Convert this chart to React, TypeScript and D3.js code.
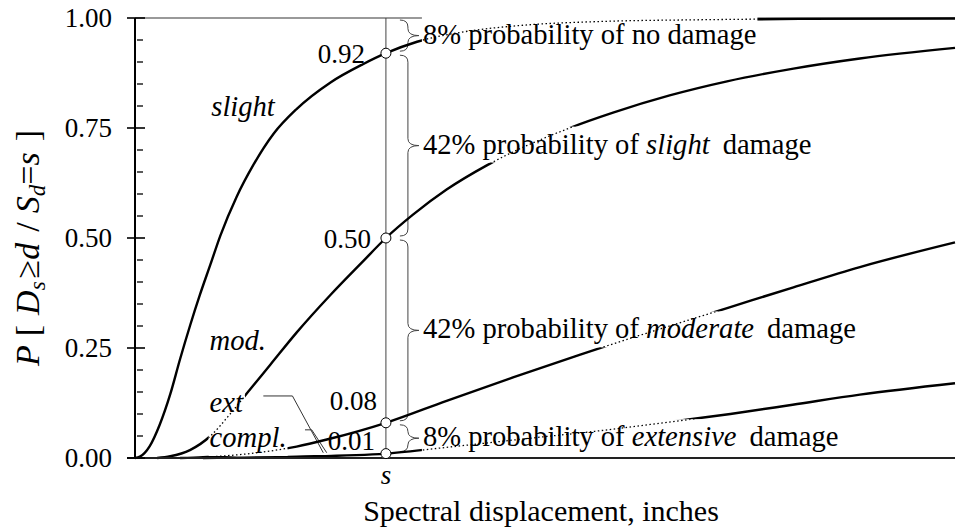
import React, { useEffect, useRef } from "react";
import * as d3 from "d3";

const W = 959;
const H = 531;

// spectral displacement (inches) vs P[Ds >= d | Sd = s]
const slightSd = [0, 0.06, 0.18, 0.3, 0.43, 0.55, 0.67, 0.79, 0.92, 1.04, 1.24, 1.44, 1.69, 1.97, 2.38, 2.78, 3.06, 3.44, 3.96, 4.7, 5.67, 6.89, 8.1, 10];
const slightP = [0, 0.003, 0.027, 0.075, 0.145, 0.225, 0.3, 0.37, 0.44, 0.505, 0.594, 0.665, 0.737, 0.793, 0.853, 0.895, 0.92, 0.946, 0.967, 0.983, 0.992, 0.996, 0.998, 0.999];

const modSd = [0.27, 0.43, 0.67, 0.92, 1.16, 1.4, 1.65, 1.97, 2.38, 2.78, 3.06, 3.39, 3.8, 4.29, 5.3, 5.83, 6.52, 7.22, 8.03, 8.84, 10];
const modP = [0, 0.004, 0.018, 0.05, 0.1, 0.155, 0.212, 0.285, 0.37, 0.447, 0.5, 0.553, 0.61, 0.665, 0.75, 0.785, 0.824, 0.856, 0.885, 0.908, 0.932];

const extSd = [0.55, 0.83, 1.4, 1.97, 2.34, 3.06, 3.8, 4.61, 5.43, 5.79, 7.26, 8.03, 8.84, 10];
const extP = [0, 0.002, 0.01, 0.026, 0.042, 0.08, 0.13, 0.183, 0.235, 0.257, 0.343, 0.388, 0.434, 0.49];

const complSd = [0.83, 1.97, 3.06, 3.84, 4.82, 5.67, 6.4, 7.26, 8.02, 8.84, 10];
const complP = [0, 0.003, 0.01, 0.025, 0.045, 0.062, 0.079, 0.1, 0.121, 0.144, 0.17];

const curves = [
  { sd: slightSd, p: slightP },
  { sd: modSd, p: modP },
  { sd: extSd, p: extP },
  { sd: complSd, p: complP },
];

const curveNames = ["slight", "mod.", "ext", "compl."];
const curveNameSd = [0.93, 0.91, 0.91, 0.91];
const curveNameP = [0.777, 0.245, 0.105, 0.025];

const sValue = 3.06;
const markerP = [0.92, 0.5, 0.08, 0.01];
const markerText = ["0.92", "0.50", "0.08", "0.01"];

const yMajor = [0, 0.25, 0.5, 0.75, 1];

const extLeader: [number, number][] = [[1.565, 0.141], [1.92, 0.141], [2.296, 0.012]];
const complLeader: [number, number][] = [[2.073, 0.064], [2.155, 0.064], [2.338, 0.012]];

type Part = { t: string; i?: boolean; gap?: boolean };
const braceLabels: Part[][] = [
  [{ t: "8% probability of no damage" }],
  [{ t: "42% probability of " }, { t: "slight", i: true }, { t: "damage", gap: true }],
  [{ t: "42% probability of " }, { t: "moderate", i: true }, { t: "damage", gap: true }],
  [{ t: "8% probability of " }, { t: "extensive", i: true }, { t: "damage", gap: true }],
];

const FONT = `"Liberation Serif", "Times New Roman", serif`;

export default function App() {
  const ref = useRef<SVGSVGElement | null>(null);

  useEffect(() => {
    document.body.style.margin = "0";
    const svg = d3.select(ref.current);
    svg.selectAll("*").remove();
    svg.style("font-family", FONT);

    const x = d3.scaleLinear().domain([0, 10]).range([135, 955]);
    const y = d3.scaleLinear().domain([0, 1]).range([458, 18]);
    const xs = x(sValue);

    const txt = (parent: any) => parent.append("text").style("font-family", FONT);

    const line = d3.line<number>().curve(d3.curveMonotoneX);
    const curvePath = (c: { sd: number[]; p: number[] }) =>
      line.x((_, i) => x(c.sd[i])).y((_, i) => y(c.p[i]))(c.sd) as string;

    // top frame line
    svg.append("line")
      .attr("x1", x(0)).attr("x2", x(10)).attr("y1", y(1)).attr("y2", y(1))
      .attr("stroke", "#777").attr("stroke-width", 1.5);

    // vertical s line
    svg.append("line")
      .attr("x1", xs).attr("x2", xs).attr("y1", y(1)).attr("y2", y(0))
      .attr("stroke", "#444").attr("stroke-width", 1);

    // braces
    const bounds = [1, ...markerP];
    const bx0 = xs + 14, bx1 = xs + 22, bx2 = xs + 33;
    const braceG = svg.append("g").attr("fill", "none").attr("stroke", "#444").attr("stroke-width", 1);
    const mids: number[] = [];
    for (let k = 0; k < markerP.length; k++) {
      const y1 = y(bounds[k]) + 2;
      const y2 = y(bounds[k + 1]) - 2;
      const ym = (y1 + y2) / 2;
      mids.push(ym);
      const r = Math.min(7, (y2 - y1) / 4);
      const p = d3.path();
      p.moveTo(bx0, y1);
      p.quadraticCurveTo(bx1, y1, bx1, y1 + r);
      p.lineTo(bx1, ym - r);
      p.quadraticCurveTo(bx1, ym, bx2, ym);
      p.quadraticCurveTo(bx1, ym, bx1, ym + r);
      p.lineTo(bx1, y2 - r);
      p.quadraticCurveTo(bx1, y2, bx0, y2);
      braceG.append("path").attr("d", p.toString());
    }

    // leader lines
    const leader = d3.line<[number, number]>().x(d => x(d[0])).y(d => y(d[1]));
    [extLeader, complLeader].forEach(l => {
      svg.append("path").attr("d", leader(l) as string)
        .attr("fill", "none").attr("stroke", "#333").attr("stroke-width", 1);
    });

    // value labels
    const vdx = [-21, -15, -9, -11];
    const vdy = [10, 10, -13, -4];
    markerP.forEach((v, k) => {
      txt(svg)
        .attr("x", xs + vdx[k]).attr("y", y(v) + vdy[k])
        .attr("text-anchor", "end").attr("font-size", 27)
        .text(markerText[k]);
    });

    // curves
    const curveG = svg.append("g");
    curves.forEach(c => {
      curveG.append("path").attr("d", curvePath(c))
        .attr("fill", "none").attr("stroke", "#000").attr("stroke-width", 2.4);
    });

    const boxLayer = svg.append("g");

    // axes
    svg.append("line")
      .attr("x1", x(0)).attr("x2", x(0)).attr("y1", y(1)).attr("y2", y(0))
      .attr("stroke", "#000").attr("stroke-width", 2);
    svg.append("line")
      .attr("x1", x(0) - 8).attr("x2", x(10)).attr("y1", y(0)).attr("y2", y(0))
      .attr("stroke", "#222").attr("stroke-width", 2.2);
    yMajor.forEach(v => {
      svg.append("line")
        .attr("x1", x(0) - 8).attr("x2", x(0) + 10).attr("y1", y(v)).attr("y2", y(v))
        .attr("stroke", "#000").attr("stroke-width", 1.6);
      txt(svg)
        .attr("x", x(0) - 23).attr("y", y(v) + 9)
        .attr("text-anchor", "end").attr("font-size", 27)
        .text(d3.format(".2f")(v));
    });
    d3.range(0, 20).map(i => i * 0.05).filter(v => !yMajor.includes(+v.toFixed(2))).forEach(v => {
      svg.append("line")
        .attr("x1", x(0) + 2).attr("x2", x(0) + 8).attr("y1", y(v)).attr("y2", y(v))
        .attr("stroke", "#000").attr("stroke-width", 1.3);
    });

    // markers
    markerP.forEach(v => {
      svg.append("circle").attr("cx", xs).attr("cy", y(v)).attr("r", 5)
        .attr("fill", "#fff").attr("stroke", "#000").attr("stroke-width", 1);
    });

    // annotation labels (with white boxes)
    const labelG = svg.append("g").attr("font-size", 28.6);
    const nodes: SVGTextElement[] = [];
    curveNames.forEach((n, k) => {
      const t = txt(labelG)
        .attr("x", x(curveNameSd[k])).attr("y", y(curveNameP[k]))
        .attr("font-style", "italic").text(n);
      nodes.push(t.node() as SVGTextElement);
    });
    braceLabels.forEach((parts, k) => {
      const t = txt(labelG).attr("x", bx2 + 4).attr("y", mids[k] + 8);
      parts.forEach(pt => {
        t.append("tspan").attr("font-style", pt.i ? "italic" : "normal")
          .attr("dx", pt.gap ? 13 : 0).text(pt.t);
      });
      nodes.push(t.node() as SVGTextElement);
    });

    const defs = svg.append("defs");
    const clip = defs.append("clipPath").attr("id", "lbl-clip");
    nodes.forEach(n => {
      const b = n.getBBox();
      const r = { x: b.x - 1, y: b.y - 2, w: b.width + 2, h: b.height + 5 };
      boxLayer.append("rect").attr("x", r.x).attr("y", r.y).attr("width", r.w).attr("height", r.h).attr("fill", "#fff");
      clip.append("rect").attr("x", r.x).attr("y", r.y).attr("width", r.w).attr("height", r.h);
    });
    const dotted = boxLayer.append("g").attr("clip-path", "url(#lbl-clip)");
    curves.forEach(c => {
      dotted.append("path").attr("d", curvePath(c))
        .attr("fill", "none").attr("stroke", "#000").attr("stroke-width", 1.3)
        .attr("stroke-dasharray", "1.5 2.5");
    });

    // s tick label
    txt(svg).attr("x", xs).attr("y", y(0) + 26)
      .attr("text-anchor", "middle").attr("font-size", 27).attr("font-style", "italic").text("s");

    // x title
    txt(svg).attr("x", 541).attr("y", 521)
      .attr("text-anchor", "middle").attr("font-size", 30).text("Spectral displacement, inches");

    // y title
    const yt = txt(svg)
      .attr("transform", `translate(39,${(y(0) + y(1)) / 2 + 10}) rotate(-90)`)
      .attr("text-anchor", "middle").attr("font-size", 34);
    yt.append("tspan").attr("font-style", "italic").text("P");
    yt.append("tspan").attr("dx", 9).text("[");
    yt.append("tspan").attr("dx", 10).attr("font-style", "italic").text("D");
    yt.append("tspan").attr("font-style", "italic").attr("font-size", 23).attr("dy", 6).text("s");
    yt.append("tspan").attr("dy", -6).attr("dx", 3).text("\u2265");
    yt.append("tspan").attr("font-style", "italic").text("d");
    yt.append("tspan").attr("dx", 11).text("/");
    yt.append("tspan").attr("dx", 9).attr("font-style", "italic").text("S");
    yt.append("tspan").attr("font-style", "italic").attr("font-size", 23).attr("dy", 6).text("d");
    yt.append("tspan").attr("dy", -6).text("=");
    yt.append("tspan").attr("font-style", "italic").text("s");
    yt.append("tspan").attr("dx", 11).text("]");
  }, []);

  return <svg ref={ref} width={W} height={H} style={{ display: "block", background: "#fff" }} />;
}
